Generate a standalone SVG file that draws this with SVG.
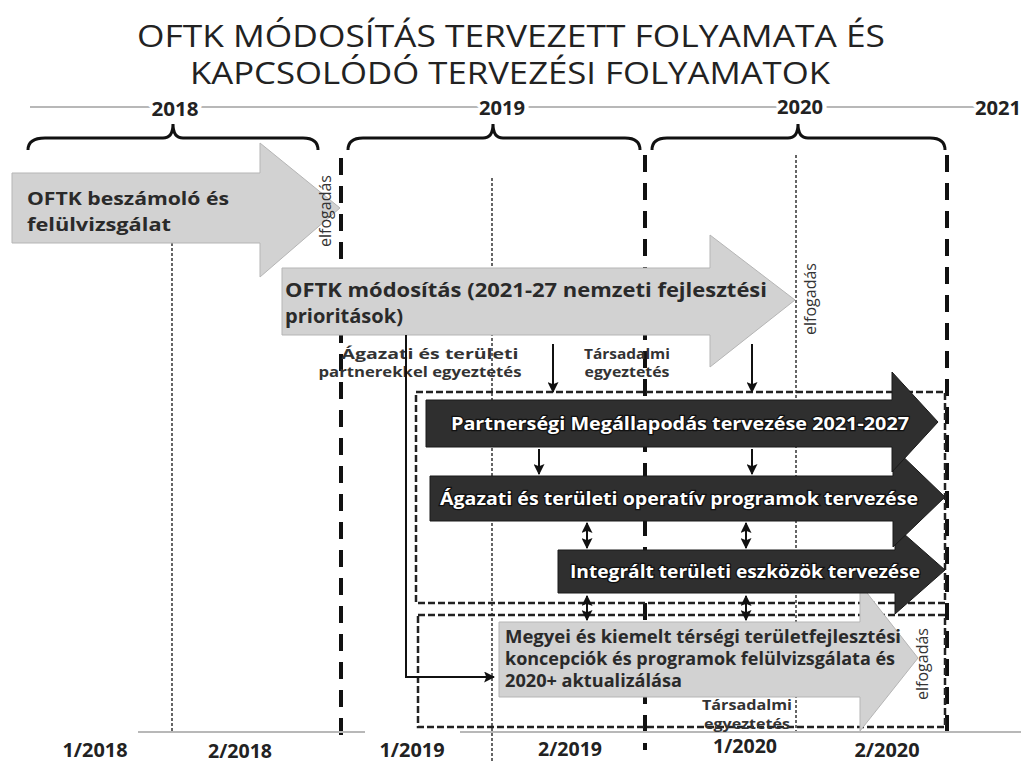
<svg xmlns="http://www.w3.org/2000/svg" width="1021" height="762" viewBox="0 0 1021 762">
<defs>
<style>
.title{font-family:"Open Sans","Liberation Sans",sans-serif;font-size:31px;fill:#222}
.yr{font-family:"Open Sans","DejaVu Sans",sans-serif;font-weight:bold;font-size:19px;fill:#222;text-anchor:middle}
.yrtop{stroke:#fff;stroke-width:8px;paint-order:stroke}
.tl{stroke:#b8b8b8;stroke-width:2;fill:none}
.brace{fill:none;stroke:#111;stroke-width:3}
.bound{stroke:#111;stroke-width:4;stroke-dasharray:17 11;fill:none}
.dot{stroke:#333;stroke-width:1.5;stroke-dasharray:3 2;fill:none}
.box{fill:none;stroke:#222;stroke-width:2.5;stroke-dasharray:7 3}
.garr{fill:#d2d2d2;stroke:#b5b5b5;stroke-width:1}
.darr{fill:#2f2f2f;stroke:#1a1a1a;stroke-width:1}
.gt{font-family:"Open Sans","DejaVu Sans",sans-serif;font-weight:bold;fill:#2a2a2a}
.dt{font-family:"Open Sans","DejaVu Sans",sans-serif;font-weight:bold;font-size:18px;fill:#fff;stroke:#111;stroke-width:2.5px;paint-order:stroke;text-anchor:middle}
.lab{font-family:"Open Sans","DejaVu Sans",sans-serif;font-weight:bold;font-size:14.5px;fill:#333;text-anchor:middle}
.elf{font-family:"Open Sans","DejaVu Sans",sans-serif;font-size:16px;fill:#333;text-anchor:middle}
.conn{stroke:#111;stroke-width:2;fill:none}
</style>
<marker id="ah" viewBox="0 0 10 10" refX="9" refY="5" markerWidth="11" markerHeight="11" markerUnits="userSpaceOnUse" orient="auto-start-reverse"><path d="M0,0 L10,5 L0,10 L2,5 Z" fill="#111"/></marker>
</defs>

<g id="title">
<text class="title" x="137" y="47" textLength="748" lengthAdjust="spacingAndGlyphs">OFTK MÓDOSÍTÁS TERVEZETT FOLYAMATA ÉS</text>
<text class="title" x="190" y="84" textLength="640" lengthAdjust="spacingAndGlyphs">KAPCSOLÓDÓ TERVEZÉSI FOLYAMATOK</text>
</g>

<g id="timeline-top">
<line class="tl" x1="30" y1="107" x2="1000" y2="107"/>
<text class="yr yrtop" x="175" y="116" textLength="47" lengthAdjust="spacingAndGlyphs">2018</text>
<text class="yr yrtop" x="502" y="115" textLength="46" lengthAdjust="spacingAndGlyphs">2019</text>
<text class="yr yrtop" x="800" y="114" textLength="46" lengthAdjust="spacingAndGlyphs">2020</text>
<text class="yr yrtop" x="998" y="115" textLength="46" lengthAdjust="spacingAndGlyphs">2021</text>
</g>

<g id="braces">
<path class="brace" d="M28,150 Q28,138 45,138 L163,138 Q173,138 173,124 Q173,138 183,138 L303,138 Q318,138 318,150"/>
<path class="brace" d="M348,150 Q348,138 363,138 L483,138 Q493,138 493,124 Q493,138 503,138 L625,138 Q640,138 640,150"/>
<path class="brace" d="M652,150 Q652,138 667,138 L788,138 Q798,138 798,124 Q798,138 808,138 L930,138 Q945,138 945,150"/>
</g>

<g id="gridlines">
<line class="dot" x1="172" y1="243" x2="172" y2="732"/>
<line class="dot" x1="492" y1="178" x2="492" y2="762"/>
<line class="dot" x1="796" y1="155" x2="796" y2="732"/>
<line class="bound" x1="341" y1="158" x2="341" y2="744"/>
<line class="bound" x1="645" y1="155" x2="645" y2="750"/>
<line class="bound" x1="947" y1="155" x2="947" y2="735"/>
</g>

<g id="timeline-bottom">
<line class="tl" x1="138" y1="732" x2="365" y2="732"/>
<line class="tl" x1="460" y1="732" x2="1021" y2="732"/>
<text class="yr" x="95" y="757" textLength="65" lengthAdjust="spacingAndGlyphs">1/2018</text>
<text class="yr" x="240" y="758" textLength="64" lengthAdjust="spacingAndGlyphs">2/2018</text>
<text class="yr" x="412" y="757" textLength="65" lengthAdjust="spacingAndGlyphs">1/2019</text>
<text class="yr" x="570" y="756" textLength="64" lengthAdjust="spacingAndGlyphs">2/2019</text>
<text class="yr" x="745" y="753" textLength="64" lengthAdjust="spacingAndGlyphs">1/2020</text>
<text class="yr" x="887" y="757" textLength="65" lengthAdjust="spacingAndGlyphs">2/2020</text>
</g>

<g id="box-op">
<rect class="box" x="416" y="392" width="529" height="211"/>
</g>
<g id="box-megyei">
<rect class="box" x="418" y="615" width="527" height="112"/>
</g>

<g id="node-beszamolo">
<polygon class="garr" points="12,173 260,173 260,143 340,208 260,277 260,243 12,243"/>
<text class="gt" font-size="18" x="27" y="205" textLength="202" lengthAdjust="spacingAndGlyphs">OFTK beszámoló és</text>
<text class="gt" font-size="18" x="27" y="231" textLength="144" lengthAdjust="spacingAndGlyphs">felülvizsgálat</text>
<text class="elf" transform="translate(331,211) rotate(-90)">elfogadás</text>
</g>

<g id="node-modositas">
<polygon class="garr" points="282,268 710,268 710,235 795,300 710,367 710,335 282,335"/>
<text class="gt" font-size="20" x="285" y="297" textLength="482" lengthAdjust="spacingAndGlyphs">OFTK módosítás (2021-27 nemzeti fejlesztési</text>
<text class="gt" font-size="20" x="285" y="323" textLength="118" lengthAdjust="spacingAndGlyphs">prioritások)</text>
<text class="elf" transform="translate(816,299) rotate(-90)">elfogadás</text>
</g>

<g id="labels-egyeztetes">
<text class="lab" x="430" y="359" textLength="177" lengthAdjust="spacingAndGlyphs">Ágazati és területi</text>
<text class="lab" x="420" y="377" textLength="203" lengthAdjust="spacingAndGlyphs">partnerekkel egyeztetés</text>
<text class="lab" x="627" y="359" textLength="86" lengthAdjust="spacingAndGlyphs">Társadalmi</text>
<text class="lab" x="627" y="377" textLength="85" lengthAdjust="spacingAndGlyphs">egyeztetés</text>
</g>

<g id="node-megyei">
<polygon class="garr" points="499,622 860,622 860,584 918,658 860,731 860,697 499,697"/>
<text class="gt" font-size="17" x="505" y="643" textLength="396" lengthAdjust="spacingAndGlyphs">Megyei és kiemelt térségi  területfejlesztési</text>
<text class="gt" font-size="17" x="505" y="665" textLength="390" lengthAdjust="spacingAndGlyphs">koncepciók és programok felülvizsgálata és</text>
<text class="gt" font-size="17" x="505" y="687" textLength="177" lengthAdjust="spacingAndGlyphs">2020+ aktualizálása</text>
<text class="elf" transform="translate(928,664) rotate(-90)">elfogadás</text>
<text class="lab" x="747" y="710" textLength="90" lengthAdjust="spacingAndGlyphs">Társadalmi</text>
<text class="lab" font-size="13.5" x="747" y="729" textLength="86" lengthAdjust="spacingAndGlyphs">egyeztetés</text>
</g>

<g id="node-its">
<polygon class="darr" points="558,550 895,550 895,526 945,570 895,614 895,593 558,593"/>
<text class="dt" x="745" y="578" textLength="350" lengthAdjust="spacingAndGlyphs">Integrált területi eszközök tervezése</text>
</g>
<g id="node-op">
<polygon class="darr" points="430,476 893,476 893,447 945,497 893,547 893,521 430,521"/>
<text class="dt" x="679" y="505" textLength="478" lengthAdjust="spacingAndGlyphs">Ágazati és területi operatív programok tervezése</text>
</g>
<g id="node-pm">
<polygon class="darr" points="426,400 892,400 892,372 938,422 892,472 892,447 426,447"/>
<text class="dt" x="680" y="430" textLength="458" lengthAdjust="spacingAndGlyphs">Partnerségi Megállapodás tervezése 2021-2027</text>
</g>

<g id="connectors">
<polyline class="conn" points="406,335 406,677 494,677" marker-end="url(#ah)"/>
<line class="conn" x1="553" y1="344" x2="553" y2="392" marker-end="url(#ah)"/>
<line class="conn" x1="752" y1="344" x2="752" y2="392" marker-end="url(#ah)"/>
<line class="conn" x1="539" y1="449" x2="539" y2="474" marker-end="url(#ah)"/>
<line class="conn" x1="752" y1="449" x2="752" y2="474" marker-end="url(#ah)"/>
<line class="conn" x1="587" y1="523" x2="587" y2="548" marker-start="url(#ah)" marker-end="url(#ah)"/>
<line class="conn" x1="746" y1="523" x2="746" y2="548" marker-start="url(#ah)" marker-end="url(#ah)"/>
<line class="conn" x1="587" y1="596" x2="587" y2="620" marker-start="url(#ah)" marker-end="url(#ah)"/>
<line class="conn" x1="746" y1="596" x2="746" y2="620" marker-start="url(#ah)" marker-end="url(#ah)"/>
</g>
</svg>
